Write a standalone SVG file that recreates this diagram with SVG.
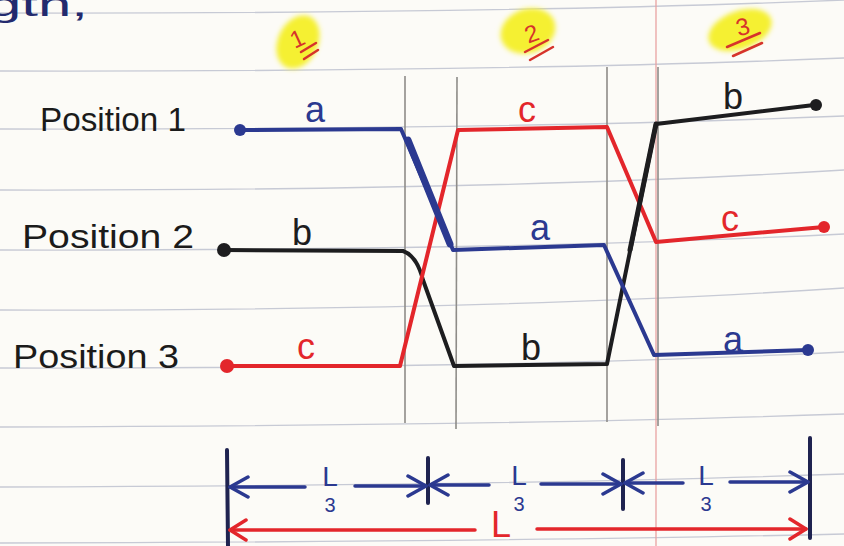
<svg xmlns="http://www.w3.org/2000/svg" width="844" height="546" viewBox="0 0 844 546">
<style>
.rule{fill:none;stroke:#c7cad5;stroke-width:1.3}
.pencil{stroke:#8e8c88;stroke-width:1.6}
.tr{fill:none;stroke-width:4;stroke-linejoin:round;stroke-linecap:round}
.blue{stroke:#2b3990}.black{stroke:#1d1d1f}.red{stroke:#e3262b}
.lbl{font-family:"Liberation Sans","DejaVu Sans",sans-serif;font-size:36px;text-anchor:middle}
.pos{font-family:"Liberation Sans","DejaVu Sans",sans-serif;font-size:34px;fill:#1b1b1b}
.num{font-family:"Liberation Sans","DejaVu Sans",sans-serif;font-size:24px;fill:#d6332b;text-anchor:middle}
.ul{stroke:#d6332b;stroke-width:2.5;stroke-linecap:round}
.frac{font-family:"Liberation Sans","DejaVu Sans",sans-serif;fill:#2b3990;text-anchor:middle}
.bar{stroke:#1f2350;stroke-width:4;stroke-linecap:round}
.dimB{stroke:#2b3990;stroke-width:3.5;fill:none;stroke-linecap:round}
.dimR{stroke:#e3262b;stroke-width:3.5;fill:none;stroke-linecap:round}
</style>
<defs>
<filter id="soft" x="-30%" y="-30%" width="160%" height="160%"><feGaussianBlur stdDeviation="2.5"/></filter>
<marker id="arB" viewBox="0 0 22 24" refX="20" refY="12" markerWidth="22" markerHeight="24" markerUnits="userSpaceOnUse" orient="auto-start-reverse"><path d="M2,2 L20,12 L2,22" fill="none" stroke="#2b3990" stroke-width="3.5" stroke-linecap="round" stroke-linejoin="round"/></marker>
<marker id="arR" viewBox="0 0 20 24" refX="18" refY="12" markerWidth="20" markerHeight="24" markerUnits="userSpaceOnUse" orient="auto-start-reverse"><path d="M2,2 L18,12 L2,22" fill="none" stroke="#e3262b" stroke-width="3.5" stroke-linecap="round" stroke-linejoin="round"/></marker>
</defs>
<rect width="844" height="546" fill="#fcfbf7"/>
<g id="paper">
<path class="rule" d="M0,13 Q500,14 844,0"/>
<path class="rule" d="M0,71 Q500,72 844,58"/>
<path class="rule" d="M0,129 Q500,130 844,116"/>
<path class="rule" d="M0,190 Q500,191 844,170"/>
<path class="rule" d="M0,250 Q500,251 844,234"/>
<path class="rule" d="M0,310 Q500,311 844,288"/>
<path class="rule" d="M0,368 Q500,369 844,352"/>
<path class="rule" d="M0,427 Q500,426 844,414"/>
<path class="rule" d="M0,487 Q500,486 844,474"/>
<path class="rule" d="M0,543 Q500,542 844,534"/>
<line x1="656" y1="0" x2="656" y2="546" stroke="#e9a2a2" stroke-width="1.3"/>
<line class="pencil" x1="405" y1="76" x2="405" y2="423"/>
<line class="pencil" x1="457" y1="77" x2="456" y2="429"/>
<line class="pencil" x1="607" y1="67" x2="607" y2="422"/>
<line class="pencil" x1="658" y1="67" x2="658" y2="426"/>
<text x="-12" y="16" font-family="Liberation Sans, sans-serif" font-size="34" fill="#232a6e" textLength="100" lengthAdjust="spacingAndGlyphs">gth,</text>
</g>
<g id="markers">
<ellipse cx="298" cy="42" rx="20" ry="28" transform="rotate(25 298 42)" fill="#f5f032" filter="url(#soft)"/>
<ellipse cx="528" cy="31" rx="28" ry="22" transform="rotate(-20 528 31)" fill="#f5f032" filter="url(#soft)"/>
<ellipse cx="740" cy="30" rx="33" ry="19" transform="rotate(-20 740 30)" fill="#f5f032" filter="url(#soft)"/>
<text class="num" x="297" y="47" transform="rotate(-25 297 38)">1</text>
<line class="ul" x1="301" y1="52" x2="316" y2="43"/><line class="ul" x1="304" y1="59" x2="318" y2="50"/>
<text class="num" x="531" y="42" transform="rotate(-20 531 32)">2</text>
<line class="ul" x1="525" y1="52" x2="548" y2="40"/><line class="ul" x1="530" y1="60" x2="553" y2="47"/>
<text class="num" x="743" y="35" transform="rotate(-15 743 27)">3</text>
<line class="ul" x1="727" y1="47" x2="760" y2="33"/><line class="ul" x1="733" y1="56" x2="762" y2="43"/>
</g>
<g id="pos1"><text class="pos" x="40" y="131" textLength="146" lengthAdjust="spacingAndGlyphs">Position 1</text></g>
<g id="pos2"><text class="pos" x="22" y="248" textLength="172" lengthAdjust="spacingAndGlyphs">Position 2</text></g>
<g id="pos3"><text class="pos" x="13" y="368" textLength="166" lengthAdjust="spacingAndGlyphs">Position 3</text></g>
<g id="connectors">
<path class="tr black" d="M223,250 L403,251 Q417,256 423,280 L454,366 L607,364 L656,124 L814,105"/>
<path class="tr red" d="M226,366 L400,366 L458,130 L607,127 L656,242 L824,227"/>
<path class="tr blue" d="M240,130 L401,129 L453,250 L604,245 L654,355 L808,350"/>
<line x1="408" y1="140" x2="450" y2="244" stroke="#2b3990" stroke-width="7" stroke-linecap="round"/>
<line x1="656" y1="124" x2="630" y2="250" stroke="#1d1d1f" stroke-width="5" stroke-linecap="round"/>
<circle cx="240" cy="130" r="6" fill="#2b3990"/>
<circle cx="808" cy="350" r="6" fill="#2b3990"/>
<circle cx="224" cy="250" r="7" fill="#1d1d1f"/>
<circle cx="816" cy="105" r="6" fill="#1d1d1f"/>
<circle cx="227" cy="366" r="7" fill="#e3262b"/>
<circle cx="824" cy="227" r="6" fill="#e3262b"/>
</g>
<g id="labels">
<text class="lbl" x="315" y="122" fill="#2b3990">a</text>
<text class="lbl" x="302" y="245" fill="#1d1d1f">b</text>
<text class="lbl" x="306" y="359" fill="#e3262b">c</text>
<text class="lbl" x="527" y="122" fill="#e3262b">c</text>
<text class="lbl" x="540" y="240" fill="#2b3990">a</text>
<text class="lbl" x="531" y="360" fill="#1d1d1f">b</text>
<text class="lbl" x="733" y="109" fill="#1d1d1f">b</text>
<text class="lbl" x="730" y="231" fill="#e3262b">c</text>
<text class="lbl" x="733" y="352" fill="#2b3990">a</text>
</g>
<g id="dimensions">
<line class="bar" x1="227" y1="450" x2="228" y2="546"/>
<line class="bar" x1="428" y1="458" x2="428" y2="503"/>
<line class="bar" x1="623" y1="460" x2="623" y2="509"/>
<line class="bar" x1="810" y1="438" x2="810" y2="538"/>
<line class="dimB" x1="305" y1="487" x2="230" y2="487" marker-end="url(#arB)"/>
<line class="dimB" x1="355" y1="486" x2="426" y2="486" marker-end="url(#arB)"/>
<line class="dimB" x1="489" y1="485" x2="430" y2="485" marker-end="url(#arB)"/>
<line class="dimB" x1="541" y1="484" x2="621" y2="484" marker-end="url(#arB)"/>
<line class="dimB" x1="683" y1="483" x2="625" y2="483" marker-end="url(#arB)"/>
<line class="dimB" x1="730" y1="482" x2="808" y2="482" marker-end="url(#arB)"/>
<text class="frac" x="330" y="486" font-size="28">L</text><text class="frac" x="330" y="512" font-size="20">3</text>
<text class="frac" x="519" y="485" font-size="28">L</text><text class="frac" x="519" y="511" font-size="20">3</text>
<text class="frac" x="706" y="485" font-size="28">L</text><text class="frac" x="706" y="511" font-size="20">3</text>
<line class="dimR" x1="475" y1="530" x2="230" y2="530" marker-end="url(#arR)"/>
<line class="dimR" x1="537" y1="529" x2="806" y2="529" marker-end="url(#arR)"/>
<text x="501" y="537" font-family="Liberation Sans, sans-serif" font-size="36" fill="#e3262b" text-anchor="middle">L</text>
</g>
</svg>
